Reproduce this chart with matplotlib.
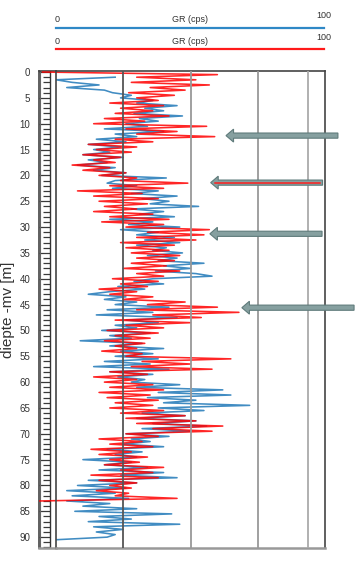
import numpy as np
import matplotlib.pyplot as plt
from matplotlib.lines import Line2D
from matplotlib.patches import FancyArrow

plt.rcParams['font.family'] = ['Liberation Sans', 'DejaVu Sans']

# GR logs (cps), sampled every 0.5 m
blue_depth = np.arange(1.0, 91.0, 0.5)
blue_gr = [22, 0, 6, 16, 4, 18, 21, 28, 24, 36, 30, 45, 33, 40, 29, 47, 31, 38,
           26, 34, 18, 40, 22, 30, 15, 26, 12, 24, 14, 20, 10, 25, 12, 19, 8, 22,
           14, 26, 17, 41, 22, 19, 30, 21, 38, 28, 45, 32, 42, 35, 53, 28, 40, 31,
           44, 20, 36, 27, 46, 24, 38, 30, 44, 33, 46, 30, 41, 36, 47, 34, 45, 38,
           55, 40, 50, 37, 52, 58, 36, 29, 40, 23, 33, 20, 12, 26, 18, 30, 22, 42,
           19, 36, 15, 45, 26, 38, 22, 30, 17, 35, 20, 28, 9, 32, 20, 40, 24, 36,
           22, 38, 18, 35, 14, 42, 20, 36, 23, 33, 28, 46, 30, 62, 38, 65, 34, 52,
           40, 72, 38, 55, 32, 48, 30, 52, 36, 56, 32, 50, 26, 42, 28, 35, 25, 40,
           19, 32, 22, 30, 10, 28, 18, 34, 16, 40, 24, 45, 12, 30, 8, 26, 4, 22,
           6, 27, 4, 20, 10, 30, 7, 43, 16, 28, 12, 46, 14, 25, 15, 22, 19, 0]

red_depth = np.arange(0.0, 83.5, 0.5)
red_gr = [-5, 60, 30, 52, 28, 57, 35, 48, 27, 44, 30, 38, 20, 40, 24, 36, 22, 42,
          18, 33, 14, 56, 26, 45, 30, 59, 22, 36, 12, 30, 15, 28, 10, 24, 14, 22,
          6, 20, 10, 26, 16, 30, 24, 49, 20, 40, 8, 32, 14, 38, 16, 34, 18, 30,
          14, 36, 20, 42, 17, 40, 26, 57, 34, 55, 30, 52, 24, 44, 26, 42, 28, 46,
          30, 44, 28, 41, 25, 46, 30, 40, 21, 38, 24, 34, 16, 30, 20, 36, 25, 48,
          34, 60, 30, 68, 36, 54, 22, 50, 26, 40, 19, 38, 22, 35, 18, 33, 22, 30,
          17, 32, 26, 65, 32, 50, 28, 58, 20, 34, 14, 30, 18, 36, 20, 40, 16, 35,
          19, 38, 22, 36, 20, 40, 24, 48, 26, 52, 30, 62, 36, 58, 26, 38, 16, 32,
          20, 36, 13, 28, 16, 34, 20, 31, 18, 40, 24, 36, 13, 38, 16, 30, 20, 28,
          15, 27, 22, 45, -6]

grid_x = [25, 50, 75, 93.7]
grid_colors = ['#555555', '#999999', '#999999', '#aaaaaa']
depth_ticks = list(range(0, 91, 5))

# arrows: depth, tip, tail (GR units)
arrow_depth = [12.3, 21.4, 31.3, 45.6]
arrow_tip = [63.2, 57.5, 57.2, 69.1]
arrow_tail = [104.8, 99.1, 98.9, 110.8]

W, H = 360, 566
fig = plt.figure(figsize=(W / 100, H / 100), dpi=100)
bottom = 1 - 548 / H
height = (548 - 71) / H
ymin, ymax = 92.1, -0.2

# depth ruler track
ruler = fig.add_axes([38.5 / W, bottom, 17.5 / W, height])
ruler.set_xlim(0, 1)
ruler.set_ylim(ymin, ymax)
ruler.set_xticks([])
ruler.set_yticks(depth_ticks)
ruler.set_yticklabels([str(t) for t in depth_ticks])
ruler.tick_params(axis='y', length=0, pad=6, labelsize=7, colors='#333333')
for d in range(0, 93):
    x0 = 0.0 if d % 5 == 0 else 0.26
    ruler.plot([x0, 0.66], [d, d], color='#3a3a3a', lw=0.9, solid_capstyle='butt')
ruler.axvline(0.66, color='#333333', lw=1.0)
ruler.axvline(0.1, color='#666666', lw=0.8)
ruler.spines['right'].set_visible(False)
for s in ['left', 'top']:
    ruler.spines[s].set_color('#444444')
    ruler.spines[s].set_linewidth(1.2)
ruler.spines['bottom'].set_color('#999999')
ruler.spines['bottom'].set_linewidth(1.8)

# main GR track
ax = fig.add_axes([56 / W, bottom, (325 - 56) / W, height])
ax.set_xlim(0, 100)
ax.set_ylim(ymin, ymax)
ax.set_xticks([])
ax.set_yticks([])
ax.patch.set_alpha(0)
ax.plot(blue_gr, blue_depth, color='#1f78b8', lw=1.15, alpha=0.85, zorder=2)
ax.plot(red_gr, red_depth, color='#ff0000', lw=1.15, alpha=0.85, zorder=2,
        clip_on=False)
for g, c in zip(grid_x, grid_colors):
    ax.axvline(g, color=c, lw=1.3, zorder=4)
for s in ['left', 'top', 'right']:
    ax.spines[s].set_color('#444444')
    ax.spines[s].set_linewidth(1.2)
ax.spines['bottom'].set_color('#999999')
ax.spines['bottom'].set_linewidth(1.8)

for d, tip, tail in zip(arrow_depth, arrow_tip, arrow_tail):
    arr = FancyArrow(tail, d, tip - tail, 0, width=1.0, head_width=2.5,
                     head_length=2.8, length_includes_head=True,
                     fc='#86a0a0', ec='#5f7b7b', lw=0.8, zorder=5, clip_on=False)
    ax.add_patch(arr)
ax.plot([arrow_tip[1] + 1.5, arrow_tail[1] - 1], [arrow_depth[1]] * 2,
        color='#ff2020', lw=1.1, zorder=6, clip_on=False)

# header scales
for y_txt, y_max, y_line, col in [(19, 15, 27.5, '#2f88c6'), (41, 37, 49, '#ff1a1a')]:
    fig.text(57 / W, 1 - y_txt / H, '0', fontsize=6.5, ha='center', va='center', color='#333333')
    fig.text(190 / W, 1 - y_txt / H, 'GR (cps)', fontsize=6.5, ha='center', va='center', color='#333333')
    fig.text(324 / W, 1 - y_max / H, '100', fontsize=6.5, ha='center', va='center', color='#333333')
    fig.add_artist(Line2D([56 / W, 324 / W], [1 - y_line / H] * 2, color=col, lw=1.6))

fig.text(8 / W, 1 - 310 / H, 'diepte -mv [m]', rotation=90, fontsize=11,
         ha='center', va='center', color='#333333')

fig.savefig('out.png', dpi=100)
